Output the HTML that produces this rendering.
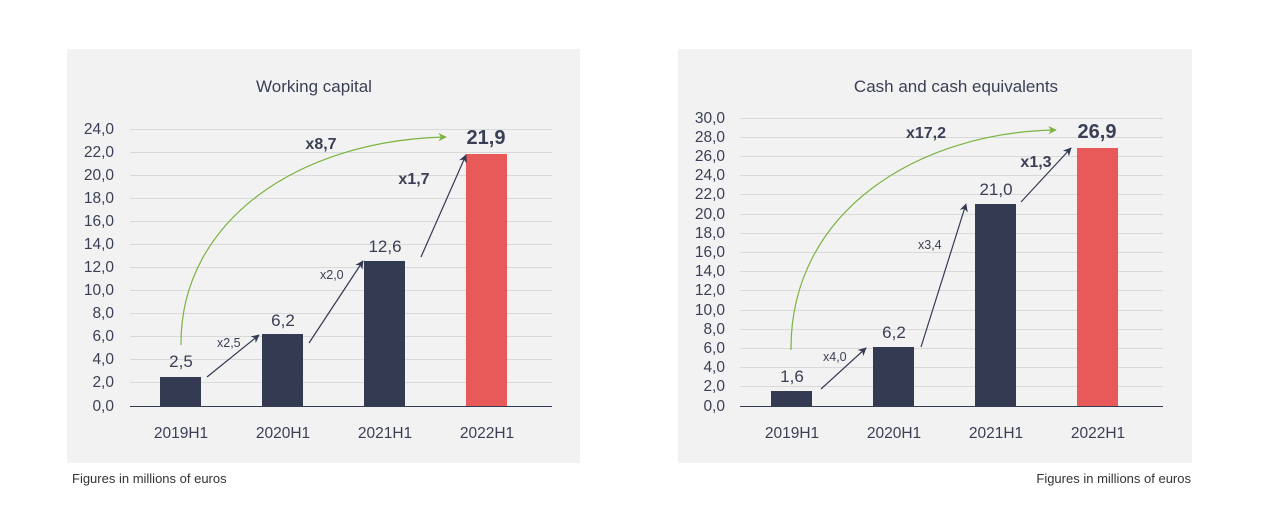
<!DOCTYPE html>
<html><head><style>
body{margin:0;background:#fff;}
svg text{font-family:"Liberation Sans",sans-serif;}
</style></head><body>
<svg width="1261" height="527" viewBox="0 0 1261 527" xmlns="http://www.w3.org/2000/svg">
<defs>
<marker id="ad" viewBox="0 0 10 10" refX="9" refY="5" markerWidth="7" markerHeight="7" orient="auto"><path d="M0,0 L10,5 L0,10 L3,5z" fill="#333a52"/></marker>
<marker id="ag" viewBox="0 0 10 10" refX="9" refY="5" markerWidth="7" markerHeight="7" orient="auto"><path d="M0,0 L10,5 L0,10 L3,5z" fill="#7cb342"/></marker>
</defs>
<!-- LEFT -->
<rect x="67" y="49" width="513" height="414" fill="#f2f2f2"/>
<text x="314" y="92" font-size="17" fill="#3a3f55" text-anchor="middle">Working capital</text>
<g stroke="#d9d9d9" stroke-width="1">
<line x1="130" x2="552" y1="129.5" y2="129.5"/><line x1="130" x2="552" y1="152.5" y2="152.5"/><line x1="130" x2="552" y1="175.5" y2="175.5"/><line x1="130" x2="552" y1="198.5" y2="198.5"/><line x1="130" x2="552" y1="221.5" y2="221.5"/><line x1="130" x2="552" y1="244.5" y2="244.5"/><line x1="130" x2="552" y1="267.5" y2="267.5"/><line x1="130" x2="552" y1="290.5" y2="290.5"/><line x1="130" x2="552" y1="313.5" y2="313.5"/><line x1="130" x2="552" y1="336.5" y2="336.5"/><line x1="130" x2="552" y1="359.5" y2="359.5"/><line x1="130" x2="552" y1="382.5" y2="382.5"/>
</g>
<line x1="130" x2="552" y1="406.5" y2="406.5" stroke="#333a52"/>
<g font-size="15.5" fill="#3a3f55" text-anchor="end">
<text x="114" y="134">24,0</text><text x="114" y="157">22,0</text><text x="114" y="180">20,0</text><text x="114" y="203">18,0</text><text x="114" y="226">16,0</text><text x="114" y="249">14,0</text><text x="114" y="272">12,0</text><text x="114" y="295">10,0</text><text x="114" y="318">8,0</text><text x="114" y="341">6,0</text><text x="114" y="364">4,0</text><text x="114" y="387">2,0</text><text x="114" y="411">0,0</text>
</g>
<rect x="160" y="377" width="41" height="29" fill="#333a52"/>
<rect x="262" y="334" width="41" height="72" fill="#333a52"/>
<rect x="364" y="261" width="41" height="145" fill="#333a52"/>
<rect x="466" y="154" width="41" height="252" fill="#e85a5a"/>
<g font-size="15.5" fill="#3a3f55" text-anchor="middle">
<text x="181" y="438">2019H1</text><text x="283" y="438">2020H1</text><text x="385" y="438">2021H1</text><text x="487" y="438">2022H1</text>
</g>
<g font-size="17" fill="#3a3f55" text-anchor="middle">
<text x="181" y="367">2,5</text><text x="283" y="326">6,2</text><text x="385" y="252">12,6</text>
</g>
<text x="486" y="144" font-size="20" font-weight="bold" fill="#3a3f55" text-anchor="middle">21,9</text>
<text x="321" y="149" font-size="16" font-weight="bold" fill="#3a3f55" text-anchor="middle">x8,7</text>
<text x="414" y="184" font-size="16" font-weight="bold" fill="#3a3f55" text-anchor="middle">x1,7</text>
<text x="217" y="347" font-size="12.5" fill="#3a3f55">x2,5</text>
<text x="320" y="279" font-size="12.5" fill="#3a3f55">x2,0</text>
<g stroke="#333a52" stroke-width="1.2" fill="none">
<line x1="207" y1="377" x2="259" y2="335" marker-end="url(#ad)"/>
<line x1="309" y1="343" x2="363" y2="261" marker-end="url(#ad)"/>
<line x1="421" y1="257" x2="466" y2="155" marker-end="url(#ad)"/>
</g>
<path d="M181,345 C180,220 300,140 446,137" stroke="#7cb342" stroke-width="1.2" fill="none" marker-end="url(#ag)"/>
<text x="72" y="483" font-size="13" fill="#333">Figures in millions of euros</text>

<!-- RIGHT -->
<rect x="678" y="49" width="514" height="414" fill="#f2f2f2"/>
<text x="956" y="92" font-size="17" fill="#3a3f55" text-anchor="middle">Cash and cash equivalents</text>
<g stroke="#d9d9d9" stroke-width="1">
<line x1="740" x2="1163" y1="118.5" y2="118.5"/><line x1="740" x2="1163" y1="137.5" y2="137.5"/><line x1="740" x2="1163" y1="156.5" y2="156.5"/><line x1="740" x2="1163" y1="175.5" y2="175.5"/><line x1="740" x2="1163" y1="194.5" y2="194.5"/><line x1="740" x2="1163" y1="214.5" y2="214.5"/><line x1="740" x2="1163" y1="233.5" y2="233.5"/><line x1="740" x2="1163" y1="252.5" y2="252.5"/><line x1="740" x2="1163" y1="271.5" y2="271.5"/><line x1="740" x2="1163" y1="290.5" y2="290.5"/><line x1="740" x2="1163" y1="310.5" y2="310.5"/><line x1="740" x2="1163" y1="329.5" y2="329.5"/><line x1="740" x2="1163" y1="348.5" y2="348.5"/><line x1="740" x2="1163" y1="367.5" y2="367.5"/><line x1="740" x2="1163" y1="386.5" y2="386.5"/>
</g>
<line x1="740" x2="1163" y1="406.5" y2="406.5" stroke="#333a52"/>
<g font-size="15.5" fill="#3a3f55" text-anchor="end">
<text x="725" y="123">30,0</text><text x="725" y="142">28,0</text><text x="725" y="161">26,0</text><text x="725" y="180">24,0</text><text x="725" y="199">22,0</text><text x="725" y="219">20,0</text><text x="725" y="238">18,0</text><text x="725" y="257">16,0</text><text x="725" y="276">14,0</text><text x="725" y="295">12,0</text><text x="725" y="315">10,0</text><text x="725" y="334">8,0</text><text x="725" y="353">6,0</text><text x="725" y="372">4,0</text><text x="725" y="391">2,0</text><text x="725" y="411">0,0</text>
</g>
<rect x="771" y="391" width="41" height="15" fill="#333a52"/>
<rect x="873" y="347" width="41" height="59" fill="#333a52"/>
<rect x="975" y="204" width="41" height="202" fill="#333a52"/>
<rect x="1077" y="148" width="41" height="258" fill="#e85a5a"/>
<g font-size="15.5" fill="#3a3f55" text-anchor="middle">
<text x="792" y="438">2019H1</text><text x="894" y="438">2020H1</text><text x="996" y="438">2021H1</text><text x="1098" y="438">2022H1</text>
</g>
<g font-size="17" fill="#3a3f55" text-anchor="middle">
<text x="792" y="382">1,6</text><text x="894" y="338">6,2</text><text x="996" y="195">21,0</text>
</g>
<text x="1097" y="138" font-size="20" font-weight="bold" fill="#3a3f55" text-anchor="middle">26,9</text>
<text x="926" y="138" font-size="16" font-weight="bold" fill="#3a3f55" text-anchor="middle">x17,2</text>
<text x="1036" y="167" font-size="16" font-weight="bold" fill="#3a3f55" text-anchor="middle">x1,3</text>
<text x="823" y="361" font-size="12.5" fill="#3a3f55">x4,0</text>
<text x="918" y="249" font-size="12.5" fill="#3a3f55">x3,4</text>
<g stroke="#333a52" stroke-width="1.2" fill="none">
<line x1="821" y1="389" x2="866" y2="348" marker-end="url(#ad)"/>
<line x1="921" y1="347" x2="966" y2="204" marker-end="url(#ad)"/>
<line x1="1021" y1="202" x2="1071" y2="148" marker-end="url(#ad)"/>
</g>
<path d="M791,350 C790,210 920,132 1056,130" stroke="#7cb342" stroke-width="1.2" fill="none" marker-end="url(#ag)"/>
<text x="1191" y="483" font-size="13" fill="#333" text-anchor="end">Figures in millions of euros</text>
</svg>
</body></html>
